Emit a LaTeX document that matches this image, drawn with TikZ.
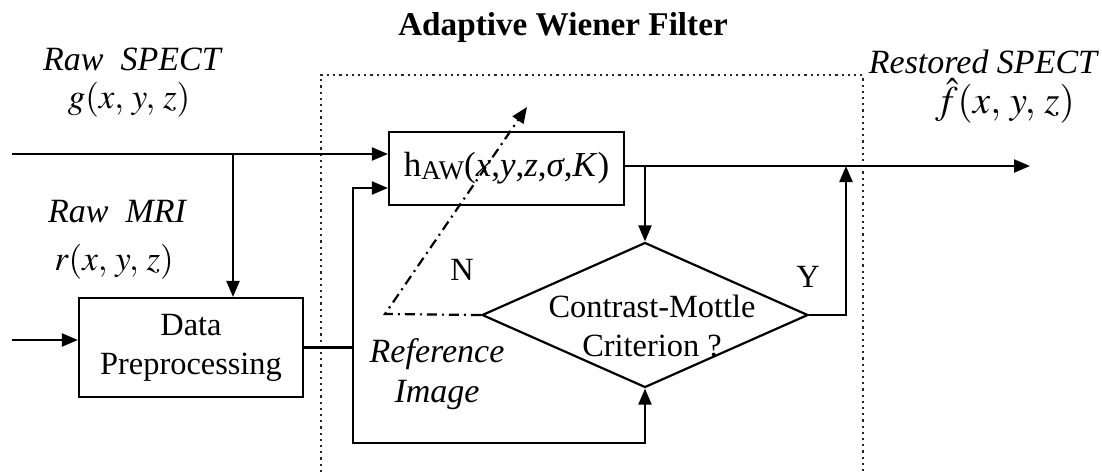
\documentclass[tikz,border=0pt]{standalone}
\usepackage{mathptmx}
\usepackage{fontspec}
\setmainfont{Liberation Serif}
\usetikzlibrary{shapes.geometric,arrows.meta}
\begin{document}
\begin{tikzpicture}[x=0.5pt,y=-0.5pt,
  every node/.style={font=\fontsize{16.2}{19.5}\selectfont, inner sep=0pt},
  arr/.style={line width=1.1pt, -{Triangle[length=8pt,width=6.5pt]}},
  blk/.style={draw, line width=1.1pt, rectangle},
  dashdotline/.style={line width=1.1pt, dash pattern=on 5pt off 2.5pt on 1pt off 2.5pt, -{Triangle[length=8pt,width=6.5pt]}},
  frame/.style={draw=black!85, line width=1.1pt, dotted},
  lbl/.style={font=\fontsize{17}{20}\selectfont\itshape, align=center},
  mathlbl/.style={font=\fontsize{17.5}{20}\selectfont}
]
\useasboundingbox (0,0) rectangle (1102,472);

% dotted frame of the adaptive Wiener filter
\draw[frame] (321,472) -- (321,75) -- (863,75) -- (863,472);
\node[font=\fontsize{16.6}{19}\selectfont\bfseries, anchor=base] (title) at (563,35) {Adaptive Wiener Filter};

% blocks
\node[blk, minimum width=112pt, minimum height=49.5pt, align=center] (dp) at (191,347.5) {Data\\Preprocessing};
\node[blk, minimum width=117.5pt, minimum height=36.5pt, font=\fontsize{17.5}{20}\selectfont] (haw) at (506.5,168.5)
  {h{\fontsize{13.5}{15}\selectfont\raisebox{-0.25ex}{AW}}(\textit{x},\textit{y},\textit{z},\textit{σ},\textit{K})};
\node[diamond, draw, line width=1.1pt, minimum width=163pt, minimum height=72.5pt] (crit) at (645,315) {};
\node[align=center] (crittext) at (652,326) {Contrast-Mottle\\Criterion ?};

% labels
\node[lbl, anchor=base] (rs) at (132,70) {Raw\ \ SPECT};
\node[mathlbl, anchor=base] (g) at (129,108) {$g(x,\,y,\,z)$};
\node[lbl, anchor=base] (rm) at (117,222) {Raw\ \ MRI};
\node[mathlbl, anchor=base] (r) at (114,270) {$r(x,\,y,\,z)$};
\node[lbl, anchor=base] (res) at (983,73) {Restored SPECT};
\node[anchor=base, font=\fontsize{19.5}{22}\selectfont] (fh) at (1005,113) {$\hat{f}(x,\,y,\,z)$};
\node[lbl] (ref) at (437,374) {Reference\\Image};
\node[anchor=base] (ylab) at (808,287) {Y};
\node[anchor=base] (nlab) at (462,280) {N};

% coordinates
\coordinate (in1) at (12,154);
\coordinate (br1) at (233,154);
\coordinate (in2) at (12,340);
\coordinate (fbtop) at (353,188);
\coordinate (fbbot) at (353,443);
\coordinate (out) at (1030,166);
\coordinate (hout) at (haw.east |- out);
\coordinate (br2) at (crit.north |- out);
\coordinate (yup) at (846,166);
\coordinate (nc) at (385,314);
\coordinate (ntip) at (527,107);

% connectors
\draw[arr] (in1) -- (in1 -| haw.west);
\draw[arr] (br1) -- (br1 |- dp.north);
\draw[arr] (in2) -- (in2 -| dp.west);
\draw[arr] (dp.east) -| (fbtop) -- (fbtop -| haw.west);
\draw[arr] (dp.east) -| (fbbot) -| (crit.south);
\draw[arr] (hout) -- (out);
\draw[arr] (br2) -- (crit.north);
\draw[arr] (crit.east) -| (yup);
\draw[dashdotline] (crit.west) -- (nc) -- (ntip);
\end{tikzpicture}
\end{document}
